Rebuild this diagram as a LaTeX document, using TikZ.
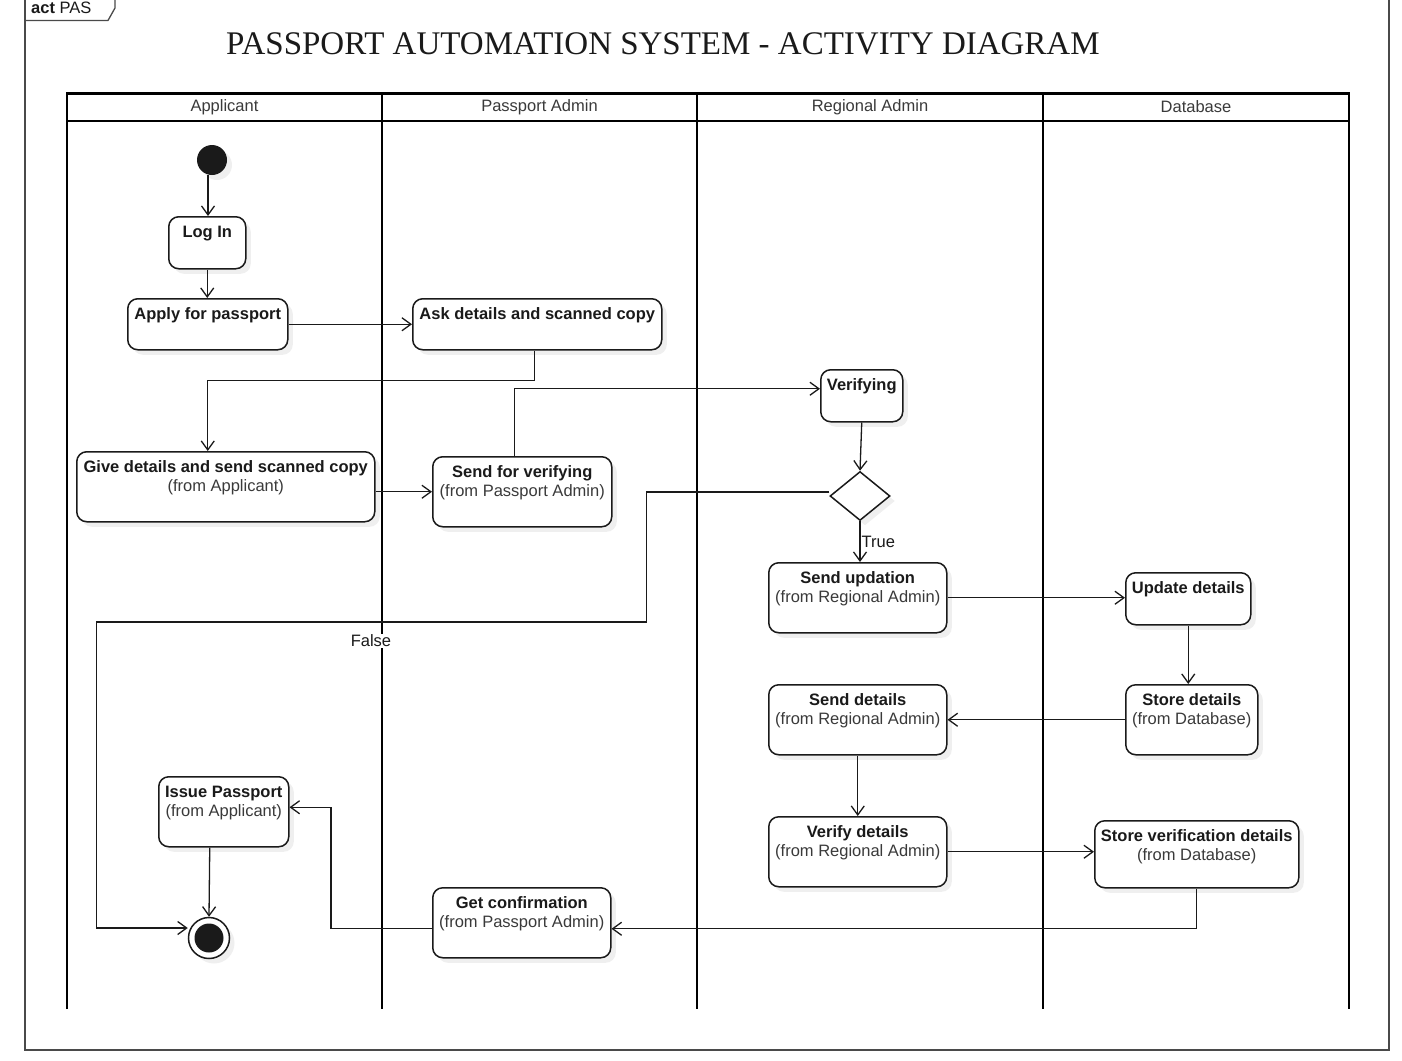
\documentclass[tikz,border=0pt]{standalone}
\usepackage{fontspec}
\setmainfont{Liberation Sans}
\newfontfamily\titlefont{Liberation Serif}
\usetikzlibrary{arrows.meta,shapes.geometric,shadows}

\definecolor{ink}{HTML}{1A1A1A}
\definecolor{subtext}{HTML}{3A3A3A}
\definecolor{framegray}{HTML}{4A4A4A}

% activity box body: width, height, bold title, optional "(from ...)" line
\newcommand\actbox[4]{%
  \parbox[c][#2pt][t]{#1pt}{\centering\rule{0pt}{20.5pt}\textbf{#3}%
  \ifx\relax#4\relax\else\\{\color{subtext}#4}\fi}}

\begin{document}
\begin{tikzpicture}[x=1pt,y=-1pt,
  txt/.style={font=\fontsize{16.5}{19}\selectfont, text=ink},
  act/.style={txt, draw=ink, line width=1.5pt, rounded corners=10pt, fill=white,
    inner sep=0pt, anchor=north west,
    drop shadow={shadow xshift=5pt, shadow yshift=-5pt, opacity=0.12}},
  flow/.style={draw=ink, line width=1.3pt,
    -{Straight Barb[length=9pt,width=13pt,line width=1.3pt]}},
  lane/.style={draw=black, line width=2.3pt},
  lanehead/.style={font=\fontsize{16.5}{19}\selectfont, text=subtext}]

\useasboundingbox (0,0) rectangle (1402,1060);
\fill[white] (0,0) rectangle (1402,1060);

% outer frame with its name tab
\draw[framegray, line width=1.6pt] (25,-2) -- (25,1050) -- (1389,1050) -- (1389,-2);
\draw[framegray, line width=1.3pt] (25,20.5) -- (108,20.5) -- (115,8) -- (115,-2);
\node[txt, anchor=west, inner sep=0pt] (tabname) at (31,8) {\textbf{act} PAS};

% title
\node[font=\titlefont\fontsize{33}{37}\selectfont, text=ink] (title) at (663,44)
  {PASSPORT AUTOMATION SYSTEM - ACTIVITY DIAGRAM};

% swimlanes
\draw[lane] (67,1009) -- (67,93) -- (1349,93) -- (1349,1009);
\draw[draw=black, line width=3pt] (67,93) -- (1349,93);
\draw[lane] (67,121) -- (1349,121);
\foreach \x in {382,697,1043} \draw[lane] (\x,93) -- (\x,1009);
\node[lanehead] (hApplicant) at (224.5,107) {Applicant};
\node[lanehead] (hPassport) at (539.5,107) {Passport Admin};
\node[lanehead] (hRegional) at (870,107) {Regional Admin};
\node[lanehead] (hDatabase) at (1196,107) {Database};

% start and end
\node[circle, fill=ink, minimum size=30pt, inner sep=0pt,
  drop shadow={shadow xshift=5pt, shadow yshift=-5pt, opacity=0.12}] (init) at (212,160) {};
\node[circle, draw=ink, line width=1.5pt, fill=white, minimum size=41pt, inner sep=0pt,
  drop shadow={shadow xshift=5pt, shadow yshift=-5pt, opacity=0.12}] (final) at (209,938) {};
\node[circle, fill=ink, minimum size=29pt, inner sep=0pt] (finaldot) at (final.center) {};

% actions
\node[act] (login) at (168,216) {\actbox{77}{52}{Log In}{}};
\node[act] (apply) at (127,298) {\actbox{160}{51}{Apply for passport}{}};
\node[act] (ask) at (412,298) {\actbox{249}{51}{Ask details and scanned copy}{}};
\node[act] (verifying) at (820,369) {\actbox{82}{52}{Verifying}{}};
\node[act] (give) at (76,451) {\actbox{298}{70}{Give details and send scanned copy}{(from Applicant)}};
\node[act] (sendver) at (432,456) {\actbox{179}{70}{Send for verifying}{(from Passport Admin)}};
\node[act] (sendupd) at (768,562) {\actbox{178}{70}{Send updation}{(from Regional Admin)}};
\node[act] (update) at (1125,572) {\actbox{125}{52}{Update details}{}};
\node[act] (senddet) at (768,684) {\actbox{178}{70}{Send details}{(from Regional Admin)}};
\node[act] (storedet) at (1125,684) {\actbox{132}{70}{Store details}{(from Database)}};
\node[act] (issue) at (158,776) {\actbox{130}{70}{Issue Passport}{(from Applicant)}};
\node[act] (verifydet) at (768,816) {\actbox{178}{70}{Verify details}{(from Regional Admin)}};
\node[act] (storever) at (1094,820) {\actbox{204}{67}{Store verification details}{(from Database)}};
\node[act] (getconf) at (432,887) {\actbox{178}{70}{Get confirmation}{(from Passport Admin)}};

% decision
\node[diamond, draw=ink, line width=1.5pt, fill=white, minimum width=60pt,
  minimum height=49pt, inner sep=0pt,
  drop shadow={shadow xshift=5pt, shadow yshift=-5pt, opacity=0.12}] (dec) at (860,496) {};

% control flow
\draw[flow] ([xshift=-4pt]init.south) -- ([xshift=-4pt]init.south |- login.north);
\draw[flow] (login.south) -- (login.south |- apply.north);
\draw[flow] (apply.east) -- (apply.east -| ask.west);
\draw[flow] ([xshift=-2.5pt]ask.south) -- ++(0,30) -| ([xshift=-18pt]give.north);
\draw[flow] (give.east |- sendver.west) -- (sendver.west);
\draw[flow] ([xshift=-7.5pt]sendver.north) |- ([yshift=7pt]verifying.west);
\draw[flow] (verifying.south) -- (dec.north);
\draw[flow] (dec.south) -- (dec.south |- sendupd.north)
  node[midway, anchor=west, txt, inner sep=1pt] (truelbl) {True};
\draw[flow] ([yshift=4pt]dec.west) -- ++(-183,0) -- ++(0,130) -- ++(-550,0)
  |- ([yshift=10pt]final.west);
\node[txt, fill=white, inner sep=1pt] (falselbl) at (371,641) {False};
\draw[flow] (sendupd.east) -- (sendupd.east -| update.west);
\draw[flow] (update.south) -- (update.south |- storedet.north);
\draw[flow] (storedet.west) -- (storedet.west -| senddet.east);
\draw[flow] (senddet.south) -- (senddet.south |- verifydet.north);
\draw[flow] (verifydet.east) -- (verifydet.east -| storever.west);
\draw[flow] (storever.south) |- ([yshift=-6pt]getconf.east);
\draw[flow] ([yshift=-6pt]getconf.west) -- ++(-101,0) |- ([yshift=4.5pt]issue.east);
\draw[flow] ([xshift=-14pt]issue.south) -- (final.north);

\end{tikzpicture}
\end{document}
